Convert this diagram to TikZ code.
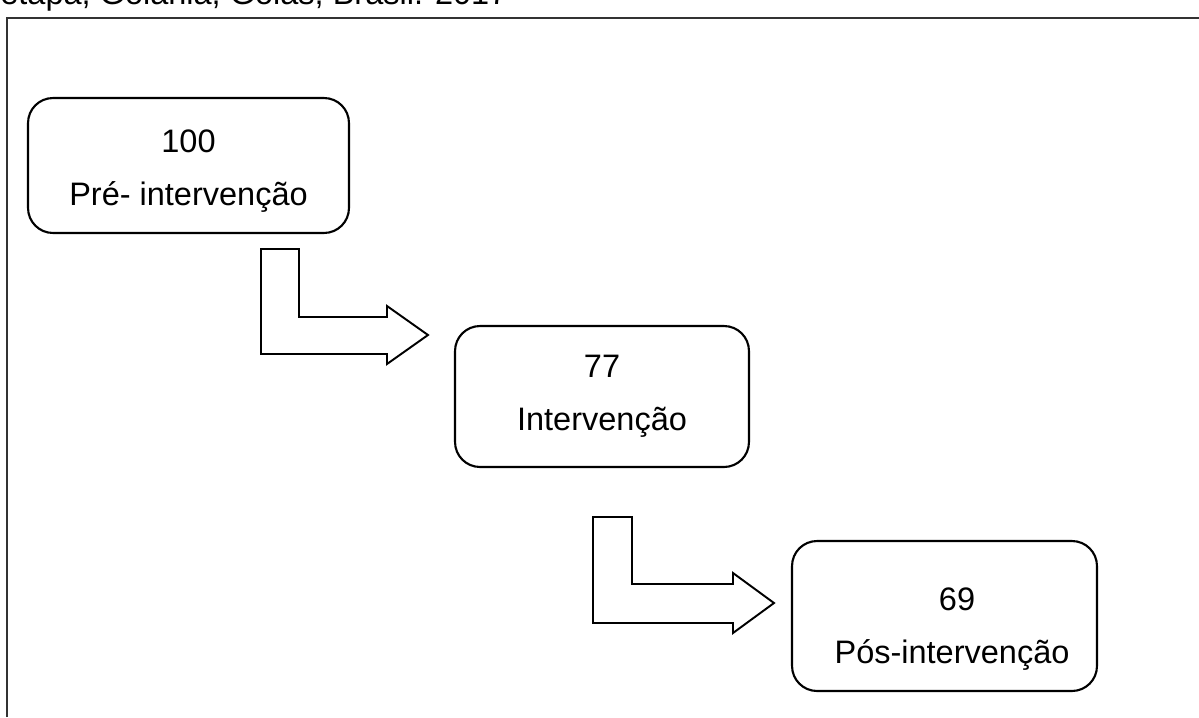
\documentclass[tikz,border=0pt]{standalone}
\usepackage{fontspec}
\setmainfont{Liberation Sans}
\tikzset{
  etapa/.style={draw,line width=1.2pt,rounded corners=0.5cm,align=center,
    font=\fontsize{18.5}{30}\selectfont,inner sep=0pt},
  seta/.style={draw,line width=1.1pt,line join=miter},
}
\begin{document}
\begin{tikzpicture}[x=0.02cm,y=-0.02cm]
	\useasboundingbox (0,0) rectangle (1199,717) ;
	\clip (0,0) rectangle (1199,717) ;
	\node[anchor=base west,font=\fontsize{18.5}{22}\selectfont,inner sep=0pt] (titulo) at (0,4) {etapa, Goiânia, Goiás, Brasil. 2017} ;
	\draw[line width=0.8pt,black!80] (7,717) -- (7,18) -- (1199,18) ;
	\node[etapa,minimum width=6.42cm,minimum height=2.7cm] (pre) at (188.5,165.5) {\rule{0pt}{19pt}100\\Pré- intervenção} ;
	\node[etapa,minimum width=5.88cm,minimum height=2.82cm] (int) at (602,396.5) {77\\Intervenção} ;
	\node[etapa,minimum width=6.1cm,minimum height=3cm,text width=6.1cm] (pos) at (944.5,616) {\rule{0pt}{28pt}\hspace*{0.5cm}69\\\hspace*{0.3cm}Pós-intervenção} ;
	\draw[seta] (261,249) -- ++(38,0) -- ++(0,68) -- ++(88,0) -- ++(0,-11) -- ++(41,29) -- ++(-41,29) -- ++(0,-10) -- ++(-126,0) -- cycle ;
	\draw[seta] (593,517) -- ++(39,0) -- ++(0,67) -- ++(101,0) -- ++(0,-11) -- ++(41,30) -- ++(-41,30) -- ++(0,-10) -- ++(-140,0) -- cycle ;
\end{tikzpicture}
\end{document}
